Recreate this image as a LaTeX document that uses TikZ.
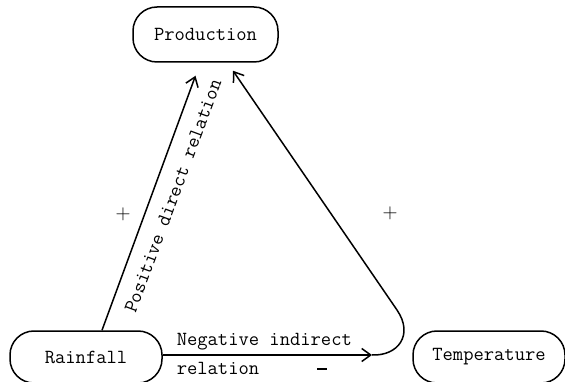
\documentclass[tikz,border=0pt]{standalone}
\usetikzlibrary{arrows.meta}
\newcommand{\tw}{\fontsize{20}{24}\selectfont\ttfamily}
\begin{document}
\begin{tikzpicture}[x=1pt,y=-1pt, line width=1.5pt,
  box/.style={draw, rounded corners=24pt, inner sep=0pt, font=\tw},
  arr/.style={-{Straight Barb[length=9pt,width=13pt]}},
  lbl/.style={font=\tw, inner sep=0pt}]
\useasboundingbox (0,0) rectangle (565,382);
\node[box, minimum width=145pt, minimum height=55pt] (prod) at (205.5,34.5) {Production};
\node[box, minimum width=152pt, minimum height=52pt] (rain) at (86,357) {Rainfall};
\node[box, minimum width=152pt, minimum height=52pt] (temp) at (489,357) {Temperature};
\coordinate (tipL) at ([xshift=-10pt,yshift=-13pt]prod.south);
\coordinate (tipN) at (372,355);
\coordinate (tipR) at ([xshift=27.5pt,yshift=-8pt]prod.south);
\draw[arr] ([xshift=16pt]rain.north) -- (tipL);
\draw[arr] ([yshift=2pt]rain.east) -- (tipN);
\draw[arr] (tipN) .. controls (398,356) and (414,335) .. (397,310) -- (tipR);
\node[lbl, rotate=69.6] (pos) at (173,196) {Positive direct relation};
\node[lbl, anchor=west] (neg) at (176,342) {Negative indirect};
\node[lbl, anchor=west] (rel) at (176,368) {relation};
\node[lbl] (plusL) at (123,214) {$+$};
\node[lbl] (plusR) at (390,213) {$+$};
\node[lbl] (minus) at (322,369) {\rule{10pt}{2.2pt}};
\end{tikzpicture}
\end{document}
